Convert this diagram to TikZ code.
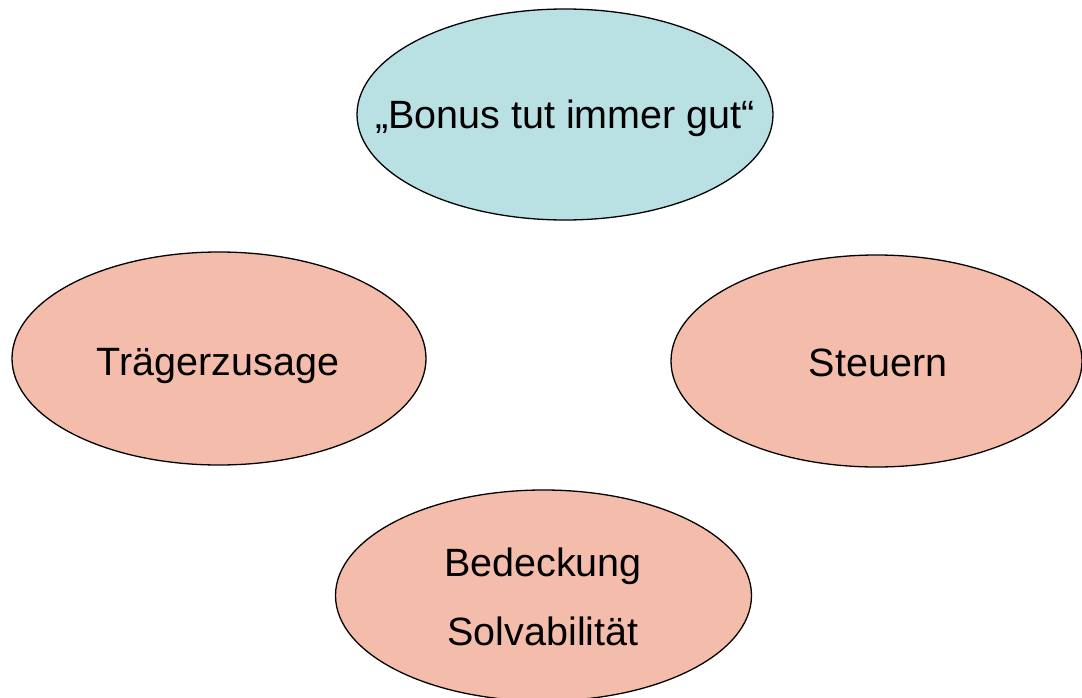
\documentclass[tikz,border=0pt]{standalone}
\usepackage{fontspec}
\setmainfont{Liberation Sans}
\usetikzlibrary{shapes.geometric}
\definecolor{cyanfill}{RGB}{185,224,227}
\definecolor{salmonfill}{RGB}{244,188,170}
\tikzset{
  blob/.style={ellipse, draw=black, line width=1.3pt, inner sep=0pt,
               minimum width=#1},
  blob/.default=414pt,
  lbl/.style={anchor=base, inner sep=0pt, font=\fontsize{39.5}{39.5}\selectfont}
}
\begin{document}
\begin{tikzpicture}[x=1pt,y=-1pt]
  \useasboundingbox (0,0) rectangle (1082,698);
  % four topic ellipses
  \node[blob=416pt, minimum height=211pt, fill=cyanfill] (top) at (565,114.5) {};
  \node[blob=414pt, minimum height=213pt, fill=salmonfill] (left) at (219,358.5) {};
  \node[blob=411pt, minimum height=212pt, fill=salmonfill] (right) at (876.5,361) {};
  \node[blob=416pt, minimum height=211pt, fill=salmonfill] (bottom) at (543.5,595.5) {};
  % their labels
  \node[lbl] (toptext) at (565,129) {„Bonus tut immer gut“};
  \node[lbl] (lefttext) at (218,375.5) {Trägerzusage};
  \node[lbl] (righttext) at (878,376.5) {Steuern};
  \node[lbl] (bottomtext1) at (543,576) {Bedeckung};
  \node[lbl] (bottomtext2) at (543,645) {Solvabilität};
\end{tikzpicture}
\end{document}
